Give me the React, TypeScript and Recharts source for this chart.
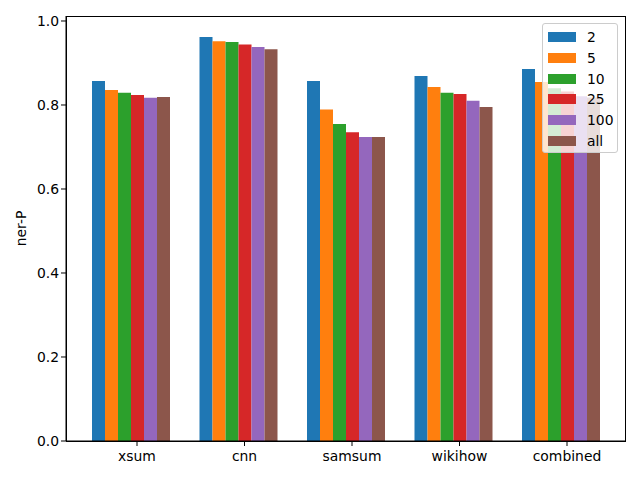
import { BarChart, Bar, XAxis, YAxis } from "recharts";

const categories = ["xsum", "cnn", "samsum", "wikihow", "combined"];
const seriesKeys = ["2", "5", "10", "25", "100", "all"];
const colors = ["#1f77b4", "#ff7f0e", "#2ca02c", "#d62728", "#9467bd", "#8c564b"];

const k2 = [0.857, 0.962, 0.857, 0.869, 0.886];
const k5 = [0.836, 0.952, 0.789, 0.843, 0.855];
const k10 = [0.829, 0.95, 0.755, 0.829, 0.84];
const k25 = [0.824, 0.944, 0.735, 0.826, 0.832];
const k100 = [0.817, 0.938, 0.724, 0.81, 0.821];
const kAll = [0.819, 0.933, 0.724, 0.795, 0.818];

const yTicks = [0, 0.2, 0.4, 0.6, 0.8, 1.0];

const seriesValues = [k2, k5, k10, k25, k100, kAll];
const data = categories.map((name, i) => {
  const row: Record<string, string | number> = { name };
  seriesKeys.forEach((k, s) => {
    row[k] = seriesValues[s][i];
  });
  return row;
});

const FONT = "DejaVu Sans, sans-serif";

// tick sits on the 4th bar of each group, not the group centre
function XTick({ x, y, payload }: any) {
  const cx = x + 6.5;
  return (
    <g>
      <line x1={cx} x2={cx} y1={y - 8} y2={y - 3} stroke="#000" strokeWidth={1} />
      <text x={cx} y={y + 12} textAnchor="middle" fontSize={13.9} fontFamily={FONT} fill="#000">
        {payload.value}
      </text>
    </g>
  );
}

function LegendBox() {
  return (
    <div
      style={{
        position: "absolute",
        left: 542,
        top: 23,
        width: 76,
        height: 130,
        background: "rgba(255,255,255,0.8)",
        border: "1px solid #cccccc",
        borderRadius: 3,
        boxSizing: "border-box",
        fontFamily: FONT,
        fontSize: 13.9,
        color: "#000",
      }}
    >
      {seriesKeys.map((k, i) => (
        <div
          key={k}
          style={{ position: "absolute", left: 5, top: 6 + i * 20.8, height: 14, display: "flex", alignItems: "center" }}
        >
          <span style={{ width: 28, height: 10, background: colors[i], display: "inline-block" }} />
          <span style={{ marginLeft: 11, lineHeight: "14px" }}>{k}</span>
        </div>
      ))}
    </div>
  );
}

export default function App() {
  return (
    <div style={{ position: "fixed", left: 0, top: 0, width: 640, height: 480, background: "#fff" }}>
      <BarChart
        width={640}
        height={480}
        data={data}
        margin={{ top: 16, right: 15, left: 0, bottom: 0 }}
        barCategoryGap={15.25}
        barGap={0}
      >
        <XAxis
          dataKey="name"
          padding={{ left: 10.75, right: 10.75 }}
          axisLine={{ stroke: "#000" }}
          tickLine={false}
          tick={<XTick />}
          interval={0}
          height={39}
        />
        <YAxis
          domain={[0, 1.0119]}
          ticks={yTicks}
          tickFormatter={(v: number) => v.toFixed(1)}
          width={66}
          allowDataOverflow
          axisLine={{ stroke: "#000" }}
          tickLine={{ stroke: "#000" }}
          tickSize={5}
          tick={{ fontSize: 13.9, fontFamily: FONT, fill: "#000" }}
          label={{ value: "ner-P", angle: -90, position: "insideLeft", offset: 21, style: { fontSize: 13.9, fontFamily: FONT, fill: "#000", textAnchor: "middle" } }}
        />
        {seriesKeys.map((k, i) => (
          <Bar key={k} dataKey={k} fill={colors[i]} isAnimationActive={false} />
        ))}
      </BarChart>
      {/* plot frame (top and right spines) */}
      <div
        style={{
          position: "absolute",
          left: 65.5,
          top: 15.5,
          width: 560,
          height: 426,
          border: "1px solid #000",
          boxSizing: "border-box",
          pointerEvents: "none",
        }}
      />
      <LegendBox />
    </div>
  );
}
